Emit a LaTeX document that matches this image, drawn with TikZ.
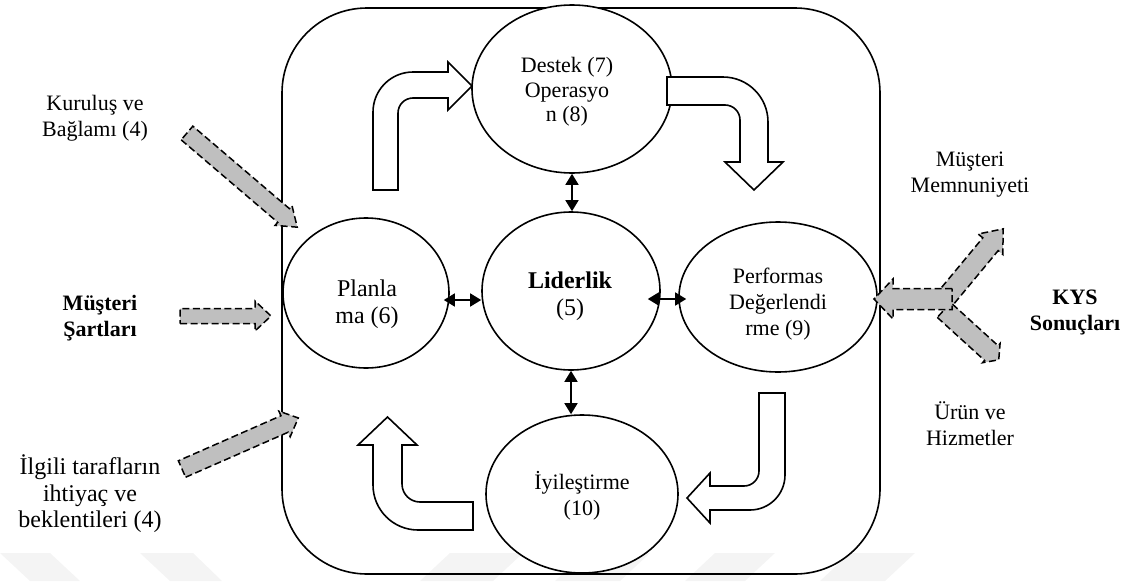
\documentclass[tikz,border=0pt]{standalone}
\usepackage{fontspec}
\setmainfont{Liberation Serif}
\usetikzlibrary{shapes.geometric,arrows.meta}

\tikzset{
  stage/.style={ellipse, draw, line width=1.6pt, fill=white, inner sep=0pt},
  lbl/.style={align=center, font=\fontsize{22}{26}\selectfont, inner sep=0pt},
  biglbl/.style={lbl, font=\fontsize{24}{27}\selectfont},
  flowarrow/.style={draw, line width=1.6pt, fill=white, line join=miter},
  linkarrow/.style={line width=1.6pt, {Triangle[length=11pt,width=13pt]}-{Triangle[length=11pt,width=13pt]}},
  grayarrow/.style={draw, fill=gray!50, line width=1.5pt, dash pattern=on 7pt off 3.5pt},
  watermark/.style={fill=gray!9, draw=none},
  frame/.style={draw, line width=1.6pt, rounded corners=85pt},
}

% dashed grey input/output arrow: tail, angle, length, shaft half-width, head half-width, head length
\newcommand{\ioarrow}[6]{%
  \draw[grayarrow, shift={#1}, rotate=#2]
    (0,-#4) -- ({#3-#6},-#4) -- ({#3-#6},-#5) -- (#3,0) -- ({#3-#6},#5)
    -- ({#3-#6},#4) -- (0,#4) -- cycle;}

\begin{document}
\begin{tikzpicture}[x=1pt,y=1pt]
\useasboundingbox (0,0) rectangle (1121,-581);

% faint background bands
\fill[watermark] (0,-553) -- (50,-553) -- (80,-581) -- (30,-581) -- cycle;
\fill[watermark] (140,-553) -- (193,-553) -- (222,-581) -- (170,-581) -- cycle;
\fill[watermark] (450,-553) -- (523,-553) -- (493,-581) -- (420,-581) -- cycle;
\fill[watermark] (585,-553) -- (650,-553) -- (620,-581) -- (555,-581) -- cycle;
\fill[watermark] (715,-553) -- (775,-553) -- (745,-581) -- (685,-581) -- cycle;
\fill[watermark] (850,-553) -- (915,-553) -- (885,-581) -- (820,-581) -- cycle;

% system frame
\draw[frame] (282,-8) rectangle (880,-574);

% PDCA stages
\node[stage, minimum width=200pt, minimum height=168pt] (dest) at (572,-89) {};
\node[stage, minimum width=178pt, minimum height=158pt] (lid) at (571,-291) {};
\node[stage, minimum width=166pt, minimum height=150pt] (plan) at (366,-293) {};
\node[stage, minimum width=198pt, minimum height=150pt] (perf) at (778,-297) {};
\node[stage, minimum width=192pt, minimum height=158pt] (iyi) at (582,-494) {};

\node[lbl, font=\fontsize{22}{24.5}\selectfont] (desttxt) at (567,-92) {Destek (7)\\Operasyo\\n (8)};
\node[biglbl] (plantxt) at (367,-304) {Planla\\ma (6)};
\node[biglbl] (lidtxt) at (570,-296) {\textbf{Liderlik}\\(5)};
\node[lbl] (perftxt) at (778,-304) {Performas\\Değerlendi\\rme (9)};
\node[lbl] (iyitxt) at (582,-496) {İyileştirme\\(10)};

% cycle block arrows
\draw[flowarrow] (373,-190) -- (373,-112) arc[start angle=180, end angle=90, radius=40]
  -- (448,-72) -- (448,-62) -- (472,-86) -- (448,-110) -- (448,-98) -- (413,-98)
  arc[start angle=90, end angle=180, radius=15] -- (398,-190) -- cycle;
\draw[flowarrow] (667,-77) -- (723,-77) arc[start angle=90, end angle=0, radius=45]
  -- (768,-162) -- (783,-162) -- (754,-190) -- (725,-162) -- (740,-162) -- (740,-120)
  arc[start angle=0, end angle=90, radius=15] -- (667,-105) -- cycle;
\draw[flowarrow] (759,-393) -- (785,-393) -- (785,-475) arc[start angle=0, end angle=-90, radius=35]
  -- (710,-510) -- (710,-523) -- (687,-498) -- (710,-473) -- (710,-486) -- (744,-486)
  arc[start angle=-90, end angle=0, radius=15] -- cycle;
\draw[flowarrow] (473,-502) -- (473,-530) -- (418,-530) arc[start angle=270, end angle=180, radius=45]
  -- (373,-445) -- (358,-445) -- (387.5,-417) -- (417,-445) -- (402,-445) -- (402,-484)
  arc[start angle=180, end angle=270, radius=18] -- cycle;

% links with leadership
\draw[linkarrow, shorten <=-6pt] ([yshift=-7pt]plan.east) -- ([yshift=-7pt]plan.east -| lid.west);
\draw[linkarrow, shorten <=-13pt, shorten >=-8pt] ([yshift=-8pt]lid.east) -- ([yshift=-8pt]lid.east -| perf.west);
\draw[linkarrow] (dest.south) -- (dest.south |- lid.north);
\draw[linkarrow] (lid.south) -- (lid.south |- iyi.north);

% inputs
\ioarrow{(187,-133)}{-40.5}{145}{9}{13}{18}
\ioarrow{(180,-316)}{0}{91}{7.5}{15}{16}
\ioarrow{(182,-469)}{23.7}{127}{9}{14}{15}

% outputs
\ioarrow{(940,-305)}{50.3}{99}{10}{16}{20}
\ioarrow{(944,-310)}{-42.3}{74}{10}{13}{10}
\ioarrow{(952,-299)}{180}{78}{10.5}{20}{19}

% side labels
\node[lbl] (kurulus) at (95,-118) {Kuruluş ve\\Bağlamı (4)};
\node[lbl, font=\fontsize{22}{26}\selectfont\bfseries] (sartlar) at (100,-318) {Müşteri\\Şartları};
\node[lbl, font=\fontsize{24}{26.5}\selectfont] (ilgili) at (90,-494) {İlgili tarafların\\ihtiyaç ve\\beklentileri (4)};
\node[lbl] (memnun) at (970,-175) {Müşteri\\Memnuniyeti};
\node[lbl, font=\fontsize{22}{26}\selectfont\bfseries] (kys) at (1075,-312) {KYS\\Sonuçları};
\node[lbl] (urun) at (970,-424) {Ürün ve\\Hizmetler};
\end{tikzpicture}
\end{document}
